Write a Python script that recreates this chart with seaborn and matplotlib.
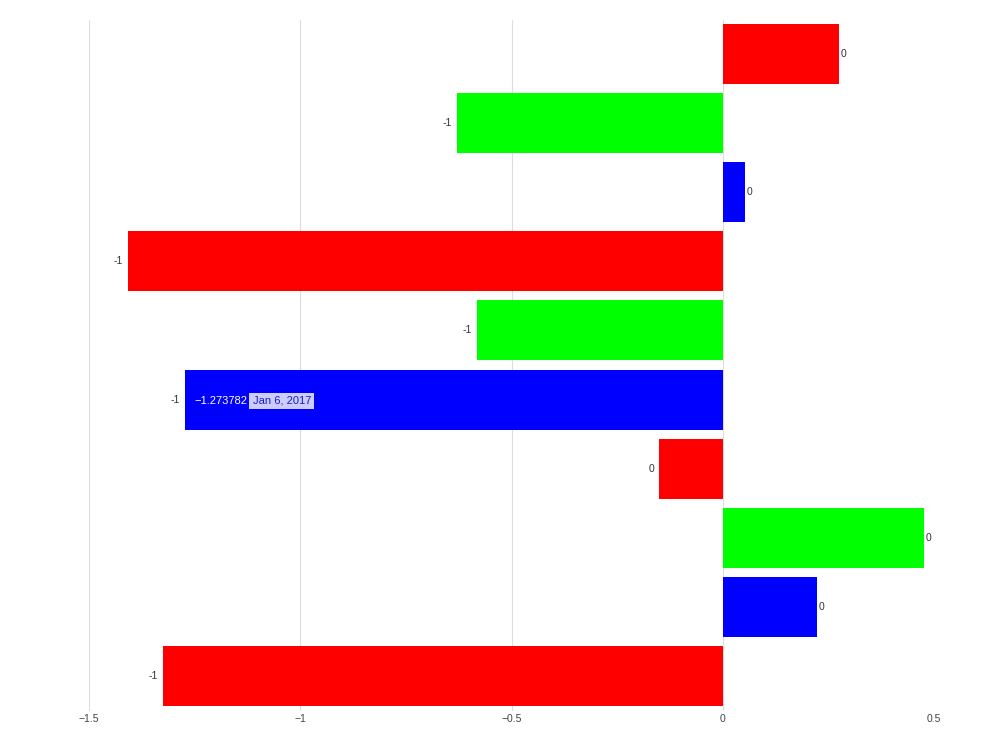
import numpy as np
import pandas as pd
import seaborn as sns
import matplotlib.pyplot as plt

# data
dates = ['Jan 1, 2017', 'Jan 2, 2017', 'Jan 3, 2017', 'Jan 4, 2017', 'Jan 5, 2017',
         'Jan 6, 2017', 'Jan 7, 2017', 'Jan 8, 2017', 'Jan 9, 2017', 'Jan 10, 2017']
values = [0.274, -0.629, 0.052, -1.408, -0.582, -1.273782, -0.151, 0.476, 0.222, -1.325]
colors = ['#ff0000', '#00ff00', '#0000ff', '#ff0000', '#00ff00',
          '#0000ff', '#ff0000', '#00ff00', '#0000ff', '#ff0000']
xticks = [-1.5, -1, -0.5, 0, 0.5]
xtick_labels = ['\u22121.5', '\u22121', '\u22120.5', '0', '0.5']
hover_idx = 5

df = pd.DataFrame({'date': dates, 'value': values})

sns.set_style('white')
plt.rcParams['font.family'] = ['Liberation Sans', 'DejaVu Sans']

fig = plt.figure(figsize=(9.92, 7.44), dpi=100)
ax = fig.add_axes([89 / 992, 1 - 710.5 / 744, (934 - 89) / 992, (710.5 - 19.5) / 744])

sns.barplot(data=df, x='value', y='date', hue='date', palette=colors,
            orient='h', width=0.868, legend=False, saturation=1,
            linewidth=0, ax=ax)

ax.set_xlim(-1.5, 0.5)
ax.set_ylim(9.5, -0.5)
ax.set_xticks(xticks)
ax.set_xticklabels(xtick_labels)
ax.set_yticks([])
ax.set_xlabel('')
ax.set_ylabel('')
ax.set_axisbelow(True)
ax.grid(axis='x', color='#dddddd', linewidth=0.8)
ax.grid(axis='y', visible=False)
for s in ax.spines.values():
    s.set_visible(False)
ax.tick_params(axis='x', length=2, color='#dddddd', labelsize=7.5,
               labelcolor='#444444', pad=0.5)

# value labels (rounded)
for i, v in enumerate(values):
    lab = str(int(np.round(v)))
    if lab == '-0':
        lab = '0'
    if v >= 0:
        ax.annotate(lab, xy=(v, i), xytext=(1.5, 0), textcoords='offset points',
                    ha='left', va='center', fontsize=7.5, color='#333333')
    else:
        ax.annotate(lab, xy=(v, i), xytext=(-3.5, 0), textcoords='offset points',
                    ha='right', va='center', fontsize=7.5, color='#333333')

# hover tooltip on Jan 6
v = values[hover_idx]
ax.annotate('\u2212{:.6f}'.format(abs(v)), xy=(v, hover_idx), xytext=(7, -1),
            textcoords='offset points', ha='left', va='center',
            fontsize=8, color='white')
ax.annotate(dates[hover_idx], xy=(v, hover_idx), xytext=(49, -1),
            textcoords='offset points', ha='left', va='center',
            fontsize=8, color='#1a1acc',
            bbox=dict(boxstyle='square,pad=0.3', facecolor='#ccccff',
                      edgecolor='none'))

fig.savefig('out.png', dpi=100)
